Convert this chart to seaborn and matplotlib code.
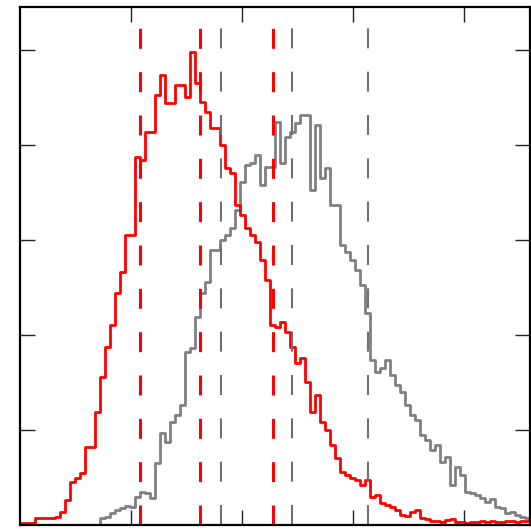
import numpy as np
import pandas as pd
import matplotlib
matplotlib.use("Agg")
import matplotlib.pyplot as plt
import seaborn as sns

# Bin heights (102 equal-width bins across the x range)
red_counts = [2, 2, 2, 7, 7, 7, 7, 8, 13, 25,
              43, 47, 52, 78, 78, 113, 148, 178, 200, 232,
              253, 290, 290, 368, 365, 393, 393, 430, 450, 422,
              422, 440, 440, 428, 473, 442, 423, 413, 397, 397,
              380, 357, 352, 320, 310, 297, 290, 283, 265, 245,
              200, 198, 203, 193, 178, 162, 167, 143, 113, 130,
              103, 95, 80, 67, 53, 50, 47, 45, 40, 45,
              28, 30, 22, 20, 18, 15, 10, 9, 13, 15,
              7, 6, 4, 4, 3, 5, 6, 3, 3, 2,
              3, 3, 4, 3, 4, 3, 3, 4, 4, 3,
              4, 4]
gray_counts = [0, 0, 0, 0, 0, 0, 0, 0, 0, 0,
               0, 0, 0, 0, 0, 0, 7, 8, 12, 15,
               17, 19, 18, 28, 33, 32, 27, 62, 92, 83,
               103, 110, 120, 173, 177, 208, 232, 243, 275, 275,
               285, 290, 297, 315, 343, 360, 362, 370, 340, 358,
               358, 403, 362, 388, 393, 402, 410, 410, 335, 400,
               347, 357, 320, 320, 280, 273, 265, 255, 240, 212,
               165, 153, 157, 165, 150, 140, 133, 120, 110, 105,
               90, 85, 75, 80, 63, 68, 40, 58, 50, 33,
               32, 30, 27, 23, 26, 18, 17, 12, 13, 10,
               8, 7]

red_lines = [1.081, 1.622, 2.279]
gray_lines = [1.811, 2.450, 3.135]

x_max = 4.595
n_bins = len(red_counts)
edges = np.linspace(0, x_max, n_bins + 1)
centers = (edges[:-1] + edges[1:]) / 2

red_df = pd.DataFrame({"x": centers, "w": np.array(red_counts, dtype=float)})
gray_df = pd.DataFrame({"x": centers, "w": np.array(gray_counts, dtype=float)})

sns.set_style("ticks")
plt.rcParams["lines.scale_dashes"] = False

fig = plt.figure(figsize=(5.31, 5.29), dpi=100)
ax = fig.add_axes([20 / 531, 1 - 525 / 529, 510 / 531, 518 / 529])

sns.histplot(data=gray_df, x="x", weights="w", bins=n_bins, binrange=(0, x_max),
             element="step", fill=False, color="#808080", linewidth=2.0, ax=ax)
sns.histplot(data=red_df, x="x", weights="w", bins=n_bins, binrange=(0, x_max),
             element="step", fill=False, color="#ff0000", linewidth=2.0, ax=ax)

for v in gray_lines:
    ax.axvline(v, color="#707070", linewidth=1.5, linestyle=(0, (14.4, 16.8)))
for v in red_lines:
    ax.axvline(v, color="#ff0000", linewidth=2.2, linestyle=(0, (14.4, 16.8)))

ax.set_xlim(0, x_max)
ax.set_ylim(0, 518)
ax.set_xticks([1, 2, 3, 4])
ax.set_yticks([95, 190, 285, 380, 475])
ax.tick_params(direction="in", top=True, right=True, bottom=True, left=True,
               labelbottom=False, labelleft=False, length=10.5, width=1.0,
               color="#222222")
ax.set_xlabel("")
ax.set_ylabel("")
for s in ax.spines.values():
    s.set_visible(True)
    s.set_linewidth(1.6)
    s.set_color("black")

fig.savefig("out.png", dpi=100)
